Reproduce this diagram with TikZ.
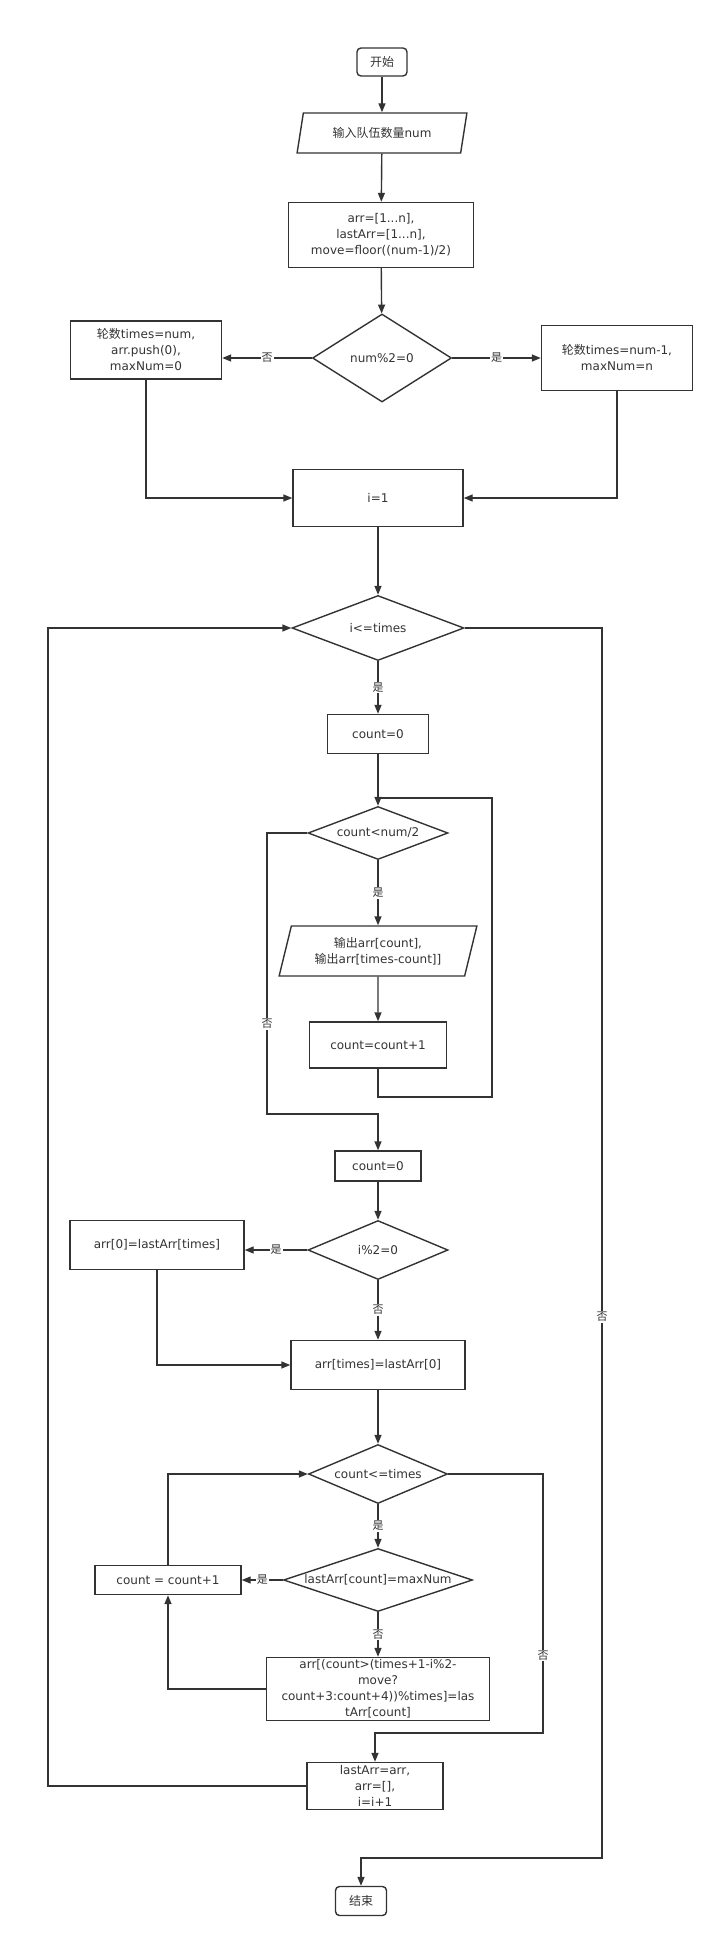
\documentclass[tikz,border=0pt]{standalone}
\usepackage{fontspec}
\setmainfont{DejaVu Sans}
\newfontfamily\cjk{Noto Sans CJK SC}
\newcommand{\zh}[1]{{\cjk #1}}
\definecolor{flowLine}{RGB}{51,51,51}
\usetikzlibrary{arrows.meta,positioning,shapes.geometric,calc}

\begin{document}
\begin{tikzpicture}[x=1pt, y=-1pt,
  every node/.style={font=\fontsize{12}{16}\selectfont, text=flowLine},
  box/.style={draw=flowLine, line width=1.4pt, inner sep=1pt, align=center},
  term/.style={box, rounded corners=4pt},
  io/.style={box, trapezium, trapezium left angle=73, trapezium right angle=107,
             trapezium stretches=true},
  decide/.style={draw=flowLine, line width=1.4pt, diamond, inner sep=0pt},
  lbl/.style={fill=white, inner sep=1pt, font=\cjk\fontsize{11}{11}\selectfont},
  flow/.style={draw=flowLine, line width=1.4pt, -{Triangle[length=9pt,width=7pt]}},
  link/.style={draw=flowLine, line width=1.4pt}
]
  \useasboundingbox (0,0) rectangle (719,1948);

  % top part
  \node[term, minimum width=50pt, minimum height=28pt] (start) at (382,62) {\zh{开始}};
  \node[io, minimum width=170pt, minimum height=40pt] (input) at (382,133) {\zh{输入队伍数量}num};
  \node[box, minimum width=185pt, minimum height=65pt] (init) at (381,235)
    {arr=[1...n],\\lastArr=[1...n],\\move=floor((num-1)/2)};
  \node[decide, minimum width=139pt, minimum height=88pt,
        label=center:{num\%2=0}] (odd) at (382,358) {};
  \node[box, minimum width=151pt, minimum height=58pt] (oddNo) at (146,350)
    {\zh{轮数}times=num,\\arr.push(0),\\maxNum=0};
  \node[box, minimum width=151pt, minimum height=65pt] (oddYes) at (617,358)
    {\zh{轮数}times=num-1,\\maxNum=n};
  \node[box, minimum width=170pt, minimum height=57pt] (iset) at (378,498) {i=1};

  % outer loop
  \node[decide, minimum width=172pt, minimum height=65pt,
        label=center:{i<=times}] (outer) at (378,628) {};
  \node[box, minimum width=101pt, minimum height=39pt] (cntA) at (378,734) {count=0};
  \node[decide, minimum width=140pt, minimum height=53pt,
        label=center:{count<num/2}] (inner) at (378,833) {};
  \node[io, minimum width=198pt, minimum height=50pt] (output) at (378,951)
    {\zh{输出}arr[count],\\\zh{输出}arr[times-count]]};
  \node[box, minimum width=137pt, minimum height=46pt] (cntInc) at (378,1045) {count=count+1};
  \node[box, minimum width=86pt, minimum height=30pt] (cntB) at (378,1166) {count=0};

  % parity
  \node[decide, minimum width=140pt, minimum height=59pt,
        label=center:{i\%2=0}] (parity) at (378,1250) {};
  \node[box, minimum width=174pt, minimum height=49pt] (firstSet) at (157,1245) {arr[0]=lastArr[times]};
  \node[box, minimum width=174pt, minimum height=49pt] (lastSet) at (378,1365) {arr[times]=lastArr[0]};

  % shift loop
  \node[decide, minimum width=139pt, minimum height=59pt,
        label=center:{count<=times}] (cloop) at (378,1474) {};
  \node[decide, minimum width=189pt, minimum height=63pt,
        label=center:{lastArr[count]=maxNum}] (maxd) at (378,1580) {};
  \node[box, minimum width=146pt, minimum height=29pt] (cntInc2) at (168,1580) {count = count+1};
  \node[box, minimum width=223pt, minimum height=63pt] (shift) at (378,1689)
    {arr[(count>(times+1-i\%2-\\move?\\count+3:count+4))\%times]=las\\tArr[count]};
  \node[box, minimum width=136pt, minimum height=47pt] (next) at (375,1786)
    {lastArr=arr,\\arr=[],\\i=i+1};
  \node[term, minimum width=51pt, minimum height=29pt] (stop) at (361,1901) {\zh{结束}};

  % bends
  \coordinate (loopR)  at (492,1097);
  \coordinate (loopJ)  at (378,798);
  \coordinate (innerN) at (267,1114);
  \coordinate (cloopN) at (543,1733);
  \coordinate (backL)  at (48,628);
  \coordinate (outerN) at (602,1858);

  \draw[flow] (start) -- (input);
  \draw[flow] (input) -- (init);
  \draw[flow] (init) -- (odd);
  \draw[flow] (odd.west) -- node[lbl] {否} (oddNo.east |- odd.west);
  \draw[flow] (odd.east) -- node[lbl] {是} (oddYes.west);
  \draw[flow] (oddNo) |- (iset.west);
  \draw[flow] (oddYes) |- (iset.east);
  \draw[flow] (iset) -- (outer);
  \draw[flow] (outer) -- node[lbl] {是} (cntA);
  \draw[flow] (cntA) -- (inner);
  \draw[flow] (inner) -- node[lbl] {是} (output);
  \draw[flow] (output) -- (cntInc);
  \draw[link] (cntInc.south) |- (loopR) |- (loopJ);
  \draw[flow] (inner.west) -| node[lbl, pos=0.84] {否} (innerN) -| (cntB.north);
  \draw[flow] (cntB) -- (parity);
  \draw[flow] (parity.west) -- node[lbl] {是} (firstSet.east |- parity.west);
  \draw[flow] (parity) -- node[lbl] {否} (lastSet);
  \draw[flow] (firstSet) |- (lastSet.west);
  \draw[flow] (lastSet) -- (cloop);
  \draw[flow] (cloop) -- node[lbl] {是} (maxd);
  \draw[flow] (maxd.west) -- node[lbl] {是} (cntInc2.east);
  \draw[flow] (maxd) -- node[lbl] {否} (shift);
  \draw[flow] (shift.west) -| (cntInc2.south);
  \draw[flow] (cntInc2.north) |- (cloop.west);
  \draw[flow] (cloop.east) -| node[lbl, pos=0.85] {否} (cloopN) -| (next.north);
  \draw[flow] (next.west) -| (backL) -- (outer.west);
  \draw[flow] (outer.east) -| node[lbl, pos=0.78] {否} (outerN) -| (stop.north);
\end{tikzpicture}
\end{document}
